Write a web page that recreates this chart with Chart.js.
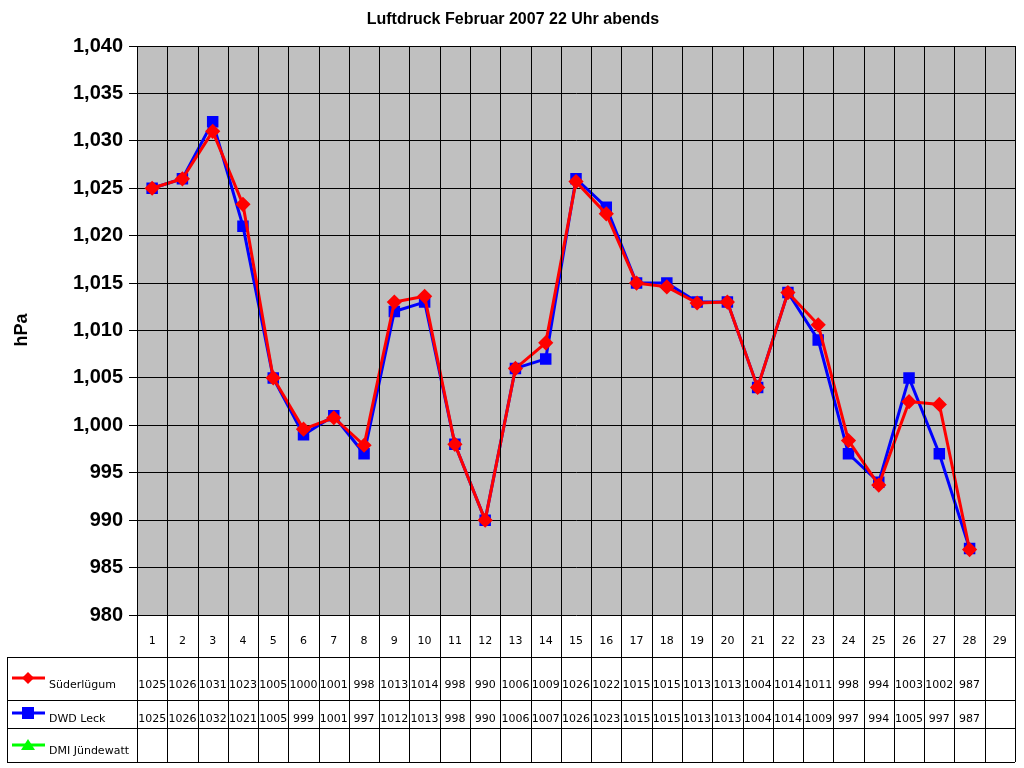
<!DOCTYPE html>
<html lang="de">
<head>
  <meta charset="UTF-8" />
  <title>Luftdruck Februar 2007</title>
  <script src="https://cdn.jsdelivr.net/npm/chart.js"></script>
  <style>
    body { margin: 0; background: #fff; }
    #wrap { width: 1024px; height: 768px; }
  </style>
</head>
<body>
  <div id="wrap"><canvas id="c" width="1024" height="768"></canvas></div>
  <script>
    const days = Array.from({ length: 29 }, (_, i) => String(i + 1));
    const suederluegum = [1025, 1026, 1031, 1023.3, 1005, 999.6, 1000.8, 997.9, 1013, 1013.6, 998, 990, 1006, 1008.7,
      1025.7, 1022.3, 1015, 1014.6, 1012.9, 1013, 1004, 1014, 1010.6, 998.4, 993.7, 1002.5, 1002.2, 986.9, null];
    const dwdLeck = [1025, 1026, 1032, 1021, 1005, 999, 1001, 997, 1012, 1013, 998, 990, 1006, 1007,
      1026, 1023, 1015, 1015, 1013, 1013, 1004, 1014, 1009, 997, 994, 1005, 997, 987, null];
    const dmiJuendewatt = Array(29).fill(null);
    const series = [
      { label: 'Süderlügum', data: suederluegum, color: '#ff0000', style: 'rectRot' },
      { label: 'DWD Leck', data: dwdLeck, color: '#0000ff', style: 'rect' },
      { label: 'DMI Jündewatt', data: dmiJuendewatt, color: '#00ff00', style: 'triangle' }
    ];

    const font = 'Tahoma, "DejaVu Sans", sans-serif';

    const tablePlugin = {
      id: 'tablePlugin',
      beforeDraw(chart) {
        const { ctx, chartArea: a } = chart;
        ctx.save();
        ctx.fillStyle = '#c0c0c0';
        ctx.fillRect(a.left, a.top, a.right - a.left, a.bottom - a.top);
        ctx.restore();
      },
      afterDraw(chart) {
        const { ctx, chartArea: a } = chart;
        const n = days.length;
        const w = (a.right - a.left) / n;
        const rows = [657, 700, 728, 762];
        ctx.save();
        ctx.strokeStyle = '#000';
        ctx.lineWidth = 1;
        ctx.beginPath();
        for (let i = 0; i <= n; i++) {
          const x = Math.round(a.left + i * w) + 0.5;
          ctx.moveTo(x, a.top); ctx.lineTo(x, rows[3]);
        }
        rows.forEach(y => { ctx.moveTo(7, y + 0.5); ctx.lineTo(a.right, y + 0.5); });
        ctx.moveTo(7.5, rows[0]); ctx.lineTo(7.5, rows[3]);
        ctx.moveTo(a.left, a.top + 0.5); ctx.lineTo(a.right, a.top + 0.5);
        ctx.stroke();

        ctx.fillStyle = '#000';
        ctx.textAlign = 'center';
        ctx.textBaseline = 'middle';
        ctx.font = '11px ' + font;
        days.forEach((d, i) => ctx.fillText(d, a.left + (i + 0.5) * w, 641));
        const rowY = [685, 719, 751];
        series.forEach((s, r) => {
          s.data.forEach((v, i) => {
            if (v !== null) ctx.fillText(String(Math.round(v)), a.left + (i + 0.5) * w, rowY[r]);
          });
        });
        // legend keys
        ctx.textAlign = 'left';
        const keyY = [678, 713, 745];
        series.forEach((s, r) => {
          ctx.strokeStyle = s.color; ctx.fillStyle = s.color; ctx.lineWidth = 3;
          ctx.beginPath(); ctx.moveTo(12, keyY[r]); ctx.lineTo(45, keyY[r]); ctx.stroke();
          const cx = 28, cy = keyY[r];
          ctx.beginPath();
          if (s.style === 'rectRot') { ctx.moveTo(cx, cy - 6); ctx.lineTo(cx + 6, cy); ctx.lineTo(cx, cy + 6); ctx.lineTo(cx - 6, cy); }
          else if (s.style === 'rect') { ctx.rect(cx - 6, cy - 6, 12, 12); }
          else { ctx.moveTo(cx, cy - 6); ctx.lineTo(cx + 7, cy + 5); ctx.lineTo(cx - 7, cy + 5); }
          ctx.closePath(); ctx.fill();
          ctx.fillStyle = '#000';
          ctx.fillText(s.label, 49, rowY[r]);
        });
        // title
        ctx.textAlign = 'center';
        ctx.font = 'bold 16px Arial, "Liberation Sans", sans-serif';
        ctx.fillText('Luftdruck Februar 2007 22 Uhr abends', 513, 20);
        ctx.save();
        ctx.translate(22, 330);
        ctx.rotate(-Math.PI / 2);
        ctx.font = 'bold 18px Arial, "Liberation Sans", sans-serif';
        ctx.fillText('hPa', 0, 0);
        ctx.restore();
        ctx.restore();
      }
    };

    new Chart(document.getElementById('c'), {
      type: 'line',
      data: {
        labels: days,
        datasets: series.map(s => ({
          label: s.label,
          data: s.data,
          borderColor: s.color,
          backgroundColor: s.color,
          borderWidth: 3,
          pointStyle: s.style,
          pointRadius: s.style === 'rect' ? 6 : 5.5,
          tension: 0,
          spanGaps: false
        }))
      },
      options: {
        responsive: false,
        animation: false,
        layout: { padding: { top: 46, bottom: 153, right: 6, left: 0 } },
        plugins: { legend: { display: false }, title: { display: false }, tooltip: { enabled: false } },
        scales: {
          x: { display: false, offset: true },
          y: {
            min: 980, max: 1040,
            afterFit(scale) { scale.width = 137; },
            ticks: { stepSize: 5, color: '#000', font: { family: 'Arial, "Liberation Sans", sans-serif', size: 20, weight: 'bold' }, padding: 6 },
            grid: { color: '#000', tickLength: 8, drawOnChartArea: true },
            border: { color: '#000' }
          }
        }
      },
      plugins: [tablePlugin]
    });
  </script>
</body>
</html>
